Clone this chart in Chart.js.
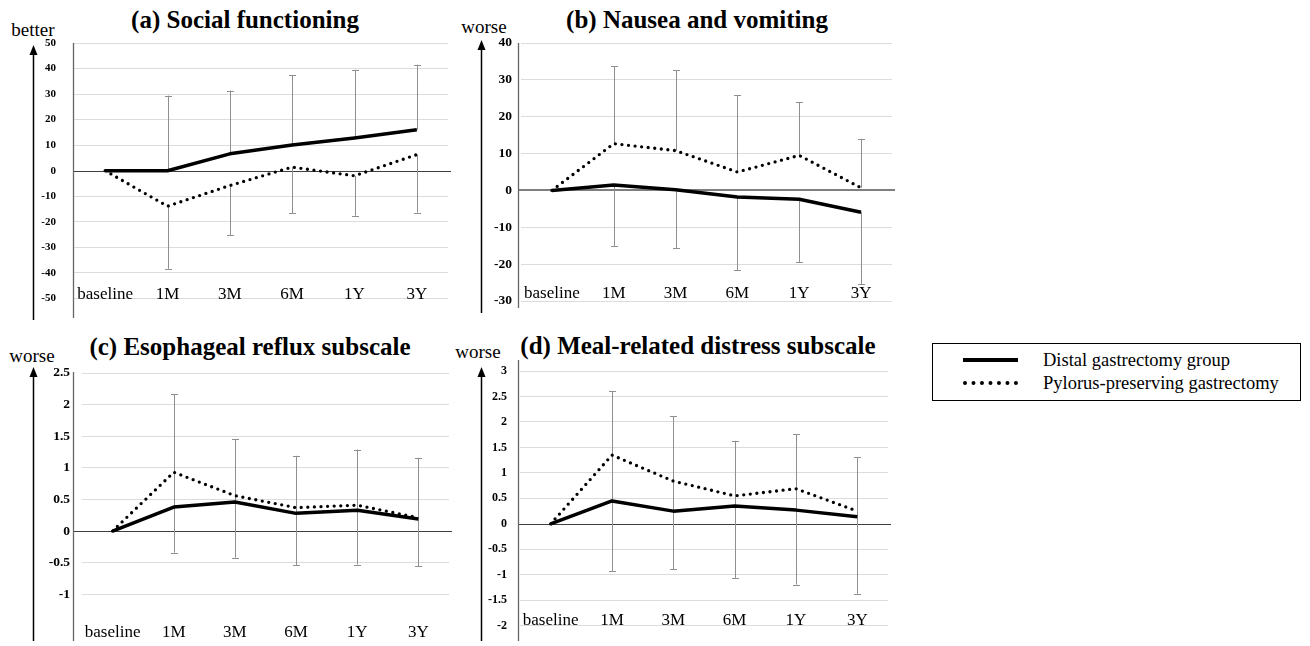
<!DOCTYPE html>
<html>
<head>
<meta charset="utf-8">
<script src="https://cdn.jsdelivr.net/npm/chart.js@4.4.1/dist/chart.umd.min.js"></script>
<style>
  body { margin: 0; background: #fff; }
  #wrap { position: relative; width: 1310px; height: 646px; overflow: hidden; font-family: "Liberation Serif", "Times New Roman", Times, "DejaVu Serif", serif; }
  #wrap canvas { position: absolute; }
  .title { position: absolute; width: 500px; text-align: center; font-size: 25px; font-weight: bold; line-height: 24px; white-space: nowrap; }
  .dir { position: absolute; width: 80px; text-align: center; font-size: 19px; line-height: 19px; }
  .legend { position: absolute; left: 932px; top: 343px; width: 367px; height: 56px; border: 1px solid #000; }
  .legend .item { position: absolute; left: 110px; font-size: 18.5px; line-height: 20px; white-space: nowrap; }
  .legend .solid { position: absolute; left: 30px; width: 55px; height: 0; border-top: 4px solid #000; }
  .legend .dots { position: absolute; left: 30px; width: 55px; height: 0; border-top: 4px dotted #000; }
</style>
</head>
<body>
<div id="wrap">
  <div class="title" style="left:-5px; top:8px;">(a) Social functioning</div>
  <div class="title" style="left:447px; top:8px;">(b) Nausea and vomiting</div>
  <div class="title" style="left:0px; top:335px;">(c) Esophageal reflux subscale</div>
  <div class="title" style="left:448px; top:334px;">(d) Meal-related distress subscale</div>

  <div class="dir" style="left:-7px; top:20px;">better</div>
  <div class="dir" style="left:444px; top:17px;">worse</div>
  <div class="dir" style="left:-8px; top:346px;">worse</div>
  <div class="dir" style="left:438px; top:342px;">worse</div>

  <div class="legend">
    <div class="solid" style="top:14px;"></div>
    <div class="item" style="top:6px;" id="leg0"></div>
    <div class="dots" style="top:37px;"></div>
    <div class="item" style="top:29px;" id="leg1"></div>
  </div>
</div>
<script>
// categories and series names
const labels = ['baseline', '1M', '3M', '6M', '1Y', '3Y'];
const seriesNames = ['Distal gastrectomy group', 'Pylorus-preserving gastrectomy'];

// (a) Social functioning
const aDG = [0, 0, 6.6, 10.1, 12.8, 16.0];
const aPPG = [0, -13.9, -5.8, 1.4, -2.0, 6.3];
const aTop = [null, 29.4, 31.4, 37.5, 39.5, 41.5];
const aBottom = [null, -38.4, -25.2, -16.6, -17.6, -16.4];

// (b) Nausea and vomiting
const bDG = [0, 1.5, 0.2, -1.8, -2.4, -5.9];
const bPPG = [0, 12.7, 10.8, 5.0, 9.5, 0.7];
const bTop = [null, 33.7, 32.6, 25.9, 24.0, 14.0];
const bBottom = [null, -15.2, -15.7, -21.6, -19.5, -25.5];

// (c) Esophageal reflux subscale
const cDG = [0, 0.38, 0.46, 0.28, 0.33, 0.19];
const cPPG = [0, 0.93, 0.56, 0.37, 0.41, 0.21];
const cTop = [null, 2.17, 1.45, 1.19, 1.29, 1.16];
const cBottom = [null, -0.34, -0.42, -0.54, -0.53, -0.56];

// (d) Meal-related distress subscale
const dDG = [0, 0.45, 0.25, 0.35, 0.27, 0.14];
const dPPG = [0, 1.35, 0.84, 0.55, 0.69, 0.25];
const dTop = [null, 2.60, 2.11, 1.63, 1.76, 1.31];
const dBottom = [null, -0.93, -0.89, -1.07, -1.19, -1.37];

// y axis ranges
const yRanges = {
  a: { min: -50, max: 50, step: 10 },
  b: { min: -30, max: 40, step: 10 },
  c: { min: -1.5, max: 2.5, step: 0.5 },
  d: { min: -2, max: 3, step: 0.5 }
};

const FONT = '"Liberation Serif", "Times New Roman", Times, "DejaVu Serif", serif';

document.getElementById('leg0').textContent = seriesNames[0];
document.getElementById('leg1').textContent = seriesNames[1];

// page layout of each panel (box = canvas, area = plot area, all in page pixels)
// labelY = centre of the category labels, drawn mirrored so they are not clipped
const panels = [
  { key: 'a', dg: aDG, ppg: aPPG, top: aTop, bottom: aBottom, upper: 0, continuous: false,
    box: [0, 0, 460, 323], area: [74, 43, 448, 312], tickSize: 11, tickPad: 18, labelY: 308,
    axisX: 73, axisY: [43, 318], arrowX: 33, arrowY: [45, 320], zero: '#404040', zeroW: 1 },
  { key: 'b', dg: bDG, ppg: bPPG, top: bTop, bottom: bBottom, upper: 1, continuous: false,
    box: [460, 0, 440, 323], area: [521, 43, 892, 301], tickSize: 13.5, tickPad: 9, labelY: 294,
    axisX: 518, axisY: [43, 308], arrowX: 481, arrowY: [40, 313], zero: '#7f7f7f', zeroW: 2 },
  { key: 'c', dg: cDG, ppg: cPPG, top: cTop, bottom: cBottom, upper: 1, continuous: true, hideMin: true,
    box: [0, 323, 460, 323], area: [82, 373, 449, 626], tickSize: 13.5, tickPad: 12, labelY: 633,
    axisX: 73, axisY: [372, 641], arrowX: 33, arrowY: [367, 641], zero: '#404040', zeroW: 1 },
  { key: 'd', dg: dDG, ppg: dPPG, top: dTop, bottom: dBottom, upper: 1, continuous: true,
    box: [460, 323, 440, 323], area: [520, 371, 888, 638], tickSize: 12, tickPad: 13, labelY: 633,
    axisX: 518, axisY: [360, 641], arrowX: 481, arrowY: [367, 641], zero: '#404040', zeroW: 1 }
];

const LABEL_SIZE = 17;

// zero line, error bars, axis line and arrow drawn with the chart's scales
function overlay(p) {
  const ox = p.box[0], oy = p.box[1];
  return {
    id: 'overlay' + p.key,
    beforeDatasetsDraw(chart) {
      const ctx = chart.ctx, xs = chart.scales.x, ys = chart.scales.y;
      ctx.save();
      // zero line runs from the axis line to just past the plot
      const y0 = Math.round(ys.getPixelForValue(0)) + (p.zeroW === 1 ? 0.5 : 0);
      ctx.strokeStyle = p.zero;
      ctx.lineWidth = p.zeroW;
      ctx.beginPath();
      ctx.moveTo(p.axisX - ox, y0);
      ctx.lineTo(chart.chartArea.right + 3, y0);
      ctx.stroke();

      ctx.strokeStyle = '#8f8f8f';
      ctx.lineWidth = 1;
      p.top.forEach(function (hi, i) {
        if (hi === null) return;
        const lo = p.bottom[i];
        const px = Math.round(xs.getPixelForValue(i)) + 0.5;
        const yHi = ys.getPixelForValue(hi), yLo = ys.getPixelForValue(lo);
        const upFrom = chart.data.datasets[p.upper].data[i];
        const lowFrom = chart.data.datasets[1 - p.upper].data[i];
        ctx.beginPath();
        if (p.continuous) {
          ctx.moveTo(px, yHi); ctx.lineTo(px, yLo);
        } else {
          ctx.moveTo(px, yHi); ctx.lineTo(px, ys.getPixelForValue(upFrom));
          ctx.moveTo(px, ys.getPixelForValue(lowFrom)); ctx.lineTo(px, yLo);
        }
        ctx.moveTo(px - 3.5, Math.round(yHi) + 0.5); ctx.lineTo(px + 3.5, Math.round(yHi) + 0.5);
        ctx.moveTo(px - 3.5, Math.round(yLo) + 0.5); ctx.lineTo(px + 3.5, Math.round(yLo) + 0.5);
        ctx.stroke();
      });
      ctx.restore();
    },
    afterDraw(chart) {
      const ctx = chart.ctx;
      ctx.save();
      // y axis line
      ctx.strokeStyle = '#666';
      ctx.lineWidth = 1.3;
      ctx.beginPath();
      ctx.moveTo(p.axisX - ox + 0.5, p.axisY[0] - oy);
      ctx.lineTo(p.axisX - ox + 0.5, p.axisY[1] - oy);
      ctx.stroke();
      // direction arrow
      const ax = p.arrowX - ox + 0.5, tip = p.arrowY[0] - oy;
      ctx.strokeStyle = '#000';
      ctx.lineWidth = 1.5;
      ctx.beginPath();
      ctx.moveTo(ax, p.arrowY[1] - oy);
      ctx.lineTo(ax, tip + 6);
      ctx.stroke();
      ctx.fillStyle = '#000';
      ctx.beginPath();
      ctx.moveTo(ax, tip);
      ctx.lineTo(ax - 4, tip + 10);
      ctx.lineTo(ax + 4, tip + 10);
      ctx.closePath();
      ctx.fill();
      ctx.restore();
    }
  };
}

const wrap = document.getElementById('wrap');

panels.forEach(function (p) {
  const r = yRanges[p.key];
  const canvas = document.createElement('canvas');
  canvas.width = p.box[2];
  canvas.height = p.box[3];
  canvas.style.left = p.box[0] + 'px';
  canvas.style.top = p.box[1] + 'px';
  wrap.appendChild(canvas);

  // mirrored bottom labels: centre = area bottom - padding - lineHeight / 2
  const labelPad = p.area[3] - p.labelY - LABEL_SIZE * 1.2 / 2;

  new Chart(canvas, {
    type: 'line',
    data: {
      labels: labels,
      datasets: [
        { label: seriesNames[0], data: p.dg, borderColor: '#000', borderWidth: 3.5,
          pointRadius: 0, tension: 0, borderJoinStyle: 'round' },
        { label: seriesNames[1], data: p.ppg, borderColor: '#000', borderWidth: 3.3,
          borderDash: [0, 6.6], borderCapStyle: 'round', pointRadius: 0, tension: 0 }
      ]
    },
    options: {
      responsive: false,
      animation: false,
      devicePixelRatio: 1,
      layout: { padding: { top: p.area[1] - p.box[1], right: p.box[0] + p.box[2] - p.area[2], bottom: 0, left: 0 } },
      plugins: { legend: { display: false }, tooltip: { enabled: false } },
      scales: {
        x: {
          offset: true,
          grid: { display: false, drawTicks: false },
          border: { display: false },
          ticks: { mirror: true, padding: labelPad, autoSkip: false, maxRotation: 0, color: '#000',
                   font: { family: FONT, size: LABEL_SIZE } },
          afterFit: function (s) { s.height = p.box[1] + p.box[3] - p.area[3]; }
        },
        y: {
          min: r.min,
          max: r.max,
          border: { display: false },
          grid: {
            drawTicks: false,
            color: function (c) {
              // zero line is drawn by the overlay, bottom line hidden where the source has none
              if (c.tick.value === 0) return 'rgba(0,0,0,0)';
              if (p.hideMin && c.tick.value === r.min) return 'rgba(0,0,0,0)';
              return '#dcdcdc';
            }
          },
          ticks: {
            stepSize: r.step,
            padding: p.tickPad,
            color: '#000',
            font: { family: FONT, size: p.tickSize, weight: 'bold' },
            callback: function (v) { return (p.hideMin && v === r.min) ? '' : String(v); }
          },
          afterFit: function (s) { s.width = p.area[0] - p.box[0]; }
        }
      }
    },
    plugins: [overlay(p)]
  });
});
</script>
</body>
</html>
